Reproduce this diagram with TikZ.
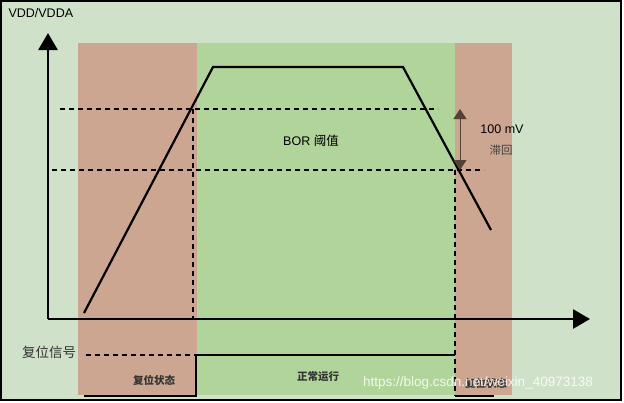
\documentclass[tikz,border=0pt]{standalone}
\usepackage{fontspec}
\setmainfont{Liberation Sans}
\newfontfamily\cjk{Noto Sans CJK SC}
\usetikzlibrary{arrows.meta}
\definecolor{paleGreen}{HTML}{D0E1C9}
\definecolor{resetPink}{HTML}{CCA691}
\definecolor{runGreen}{HTML}{B1D49A}
\tikzset{
  axis/.style   = {line width=2.8pt,-{Triangle[length=17pt,width=19pt]}},
  curve/.style  = {line width=2.2pt},
  level/.style  = {line width=1.2pt,dash pattern=on 5pt off 4pt},
  signal/.style = {line width=2.2pt},
  lbl/.style    = {font=\fontsize{12.5}{14}\selectfont},
  state/.style  = {font=\cjk\bfseries\fontsize{10.5}{12}\selectfont,text=black!80}
}
\tikzset{>=latex}

\begin{document}
\begin{tikzpicture}[x=1pt,y=-1pt]
  \useasboundingbox (0,0) rectangle (624,402);
  % background
  \draw[fill=paleGreen,line width=1.5pt] (1,1) rectangle (621,400);
  \fill[resetPink] ( 78,43) rectangle (197,395);
  \fill[runGreen]  (197,43) rectangle (455,395);
  \fill[resetPink] (455,43) rectangle (512,395);
  % points
  \coordinate (o)     at ( 48,319);
  \coordinate (ytop)  at ( 48,33);
  \coordinate (xend)  at (590,319);
  \coordinate (start) at ( 84,313);
  \coordinate (up)    at (213,67);
  \coordinate (down)  at (403,67);
  \coordinate (stop)  at (491,230);
  \coordinate (hiL)   at ( 60,109);
  \coordinate (hiR)   at (438,109);
  \coordinate (loL)   at ( 52,170);
  \coordinate (loR)   at (484,170);
  \coordinate (cutA)  at (193,109);
  \coordinate (cutA0) at (193,319);
  \coordinate (cutB)  at (455,170);
  \coordinate (cutB0) at (455,396);
  \coordinate (hystT) at (460,109);
  \coordinate (hystB) at (460,170);
  % levels
  \draw[level] (hiL) -- (hiR);
  \draw[level] (loL) -- (loR);
  \draw[level] (cutA) -- (cutA0);
  \draw[level,line width=2pt] (cutB) -- (cutB0);
  % supply
  \draw[curve] (start) -- (up) -- (down) -- (stop);
  % axis
  \draw[axis] (o) -- (ytop);
  \draw[axis] (o) -- (xend);
  % hysteresis
  \draw[{Triangle[length=10pt,width=13pt]}-{Triangle[length=10pt,width=13pt]},
        line width=1pt,draw=black!60!resetPink] (hystT) -- (hystB);
  % reset signal
  \coordinate (sigL)  at ( 86,355);
  \coordinate (sigA)  at (196,355);
  \coordinate (sigA0) at (196,396);
  \coordinate (sigB)  at (455,355);
  \coordinate (lowL)  at ( 84,396);
  \coordinate (lowR)  at (494,396);
  \draw[level] (sigL) -- (sigA);
  \draw[signal] (lowL) -- (sigA0) -- (sigA) -- (sigB);
  \draw[signal] (cutB0) -- (lowR);
  % labels
  \node[lbl,anchor=west] (vdd) at (5,13) {VDD/VDDA};
  \node[lbl] (bor) at (311,141) {BOR {\cjk 阈值}};
  \node[lbl] (hyst) at (502,129) {100 mV};
  \node[lbl,font=\cjk\fontsize{11.5}{13}\selectfont,text=black!75] (hystcn) at (501,150) {滞回};
  \node[font=\cjk\fontsize{13.5}{15}\selectfont,text=black!80] (rst) at (49,352) {复位信号};
  \node[state] (stA) at (154,380) {复位状态};
  \node[state] (stB) at (318,377) {正常运行};
  \node[state] (stC) at (486,383) {复位状态};
  \node[text=white,opacity=0.85,font=\fontsize{13.5}{15}\selectfont] (mark) at (478,383) {https://blog.csdn.net/weixin\_40973138};
\end{tikzpicture}
\end{document}
